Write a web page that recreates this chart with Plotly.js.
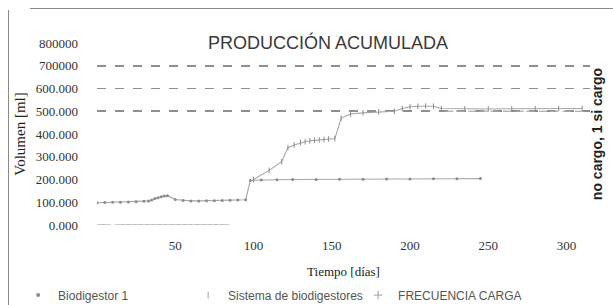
<!DOCTYPE html>
<html>
<head>
<meta charset="utf-8">
<script src="https://cdn.plot.ly/plotly-3.0.1.min.js"></script>
<style>
  html, body { margin: 0; padding: 0; background: #fff; }
  #chart { width: 613px; height: 305px; position: relative; }
  .frame { position: absolute; background: #8a8a8a; pointer-events: none; }
</style>
</head>
<body>
<div id="chart"></div>
<div class="frame" style="left:8px; top:10px; width:1px; height:295px;"></div>
<div class="frame" style="left:30px; top:8px; width:583px; height:1px;"></div>
<script>
// ---- data ----
const bioDias = [0, 5, 10, 15, 20, 25, 30, 33, 35, 37, 39, 41, 43, 45, 50, 55, 60, 65, 70, 75, 80, 85, 90, 95, 98, 105, 115, 125, 140, 155, 170, 185, 200, 215, 230, 245];
const bioVol  = [98000, 99000, 100000, 100000, 101000, 102000, 104000, 106000, 110000, 116000, 120000, 124000, 127000, 129000, 112000, 108000, 106000, 106000, 107000, 107000, 108000, 109000, 110000, 111000, 196000, 198000, 199000, 200000, 200000, 201000, 201000, 202000, 202000, 203000, 203000, 204000];

const sisDias = [100, 110, 118, 122, 126, 130, 133, 136, 139, 142, 145, 148, 152, 156, 162, 170, 180, 190, 195, 200, 205, 210, 215, 220, 235, 250, 265, 280, 295, 310];
const sisVol  = [200000, 240000, 278000, 340000, 352000, 362000, 366000, 370000, 372000, 374000, 376000, 378000, 380000, 470000, 488000, 493000, 497000, 500000, 512000, 520000, 522000, 523000, 522000, 512000, 510000, 510000, 511000, 511000, 512000, 512000];

const cargaDias = [2, 6, 14, 18, 22, 26, 30, 34, 38, 42, 46, 50, 54, 58, 62, 66, 70, 74, 78, 82, 225, 232, 240, 247, 254, 262, 270, 277, 285, 292, 300, 308];
const cargaVal  = [0, 0, 0, 0, 0, 0, 0, 0, 0, 0, 0, 0, 0, 0, 0, 0, 0, 0, 0, 0, 1, 1, 1, 1, 1, 1, 1, 1, 1, 1, 1, 1];

const yTickVals = [0, 100000, 200000, 300000, 400000, 500000, 600000, 700000, 800000];
const yTickText = ["0.000", "100.000", "200.000", "300.000", "400.000", "500.000", "600.000", "700000", "800000"];
const gridDashVals = [500000, 600000, 700000];
const gridDotVals = [800000];
const xTickVals = [50, 100, 150, 200, 250, 300];

const SERIF = "Liberation Serif";
const SANS = "Liberation Sans";

const traces = [
  // grid carriers (invisible)
  { x: [0], y: [null], yaxis: "y3", type: "scatter", mode: "markers", showlegend: false, hoverinfo: "skip" },
  { x: [0], y: [null], yaxis: "y4", type: "scatter", mode: "markers", showlegend: false, hoverinfo: "skip" },
  {
    x: bioDias, y: bioVol, name: "Biodigestor 1", type: "scatter", mode: "lines+markers", showlegend: false,
    line: {color: "#a6a6a6", width: 1.1},
    marker: {color: "#8c8c8c", size: 3, symbol: "circle"}
  },
  {
    x: sisDias, y: sisVol, name: "Sistema de biodigestores", type: "scatter", mode: "lines+markers", showlegend: false,
    line: {color: "#a6a6a6", width: 1.1},
    marker: {color: "#8c8c8c", size: 4, symbol: "line-ns-open", line: {width: 1, color: "#8c8c8c"}}
  },
  {
    x: cargaDias, y: cargaVal, name: "FRECUENCIA CARGA", type: "scatter", mode: "markers", showlegend: false,
    yaxis: "y2",
    marker: {color: "#a8a8a8", size: 6, symbol: "line-ew-open", line: {width: 1.2, color: "#a8a8a8"}}
  },
  // legend entries (marker-only symbols as in the reference)
  { x: [null], y: [null], name: "Biodigestor 1", type: "scatter", mode: "markers",
    marker: {color: "#8c8c8c", size: 4, symbol: "circle"} },
  { x: [null], y: [null], name: "Sistema de biodigestores", type: "scatter", mode: "markers",
    marker: {color: "#a0a0a0", size: 5, symbol: "line-ns-open", line: {width: 1, color: "#a0a0a0"}} },
  { x: [null], y: [null], name: "FRECUENCIA CARGA", type: "scatter", mode: "markers", yaxis: "y2",
    marker: {color: "#a0a0a0", size: 6, symbol: "cross-thin-open", line: {width: 1, color: "#a0a0a0"}} }
];

const layout = {
  width: 613, height: 305,
  margin: {l: 97, r: 23, t: 43, b: 80, autoexpand: false},
  paper_bgcolor: "#ffffff", plot_bgcolor: "#ffffff",
  font: {family: SERIF, size: 12, color: "#333333"},
  showlegend: true,
  title: {
    text: "PRODUCCIÓN ACUMULADA",
    font: {family: SANS, size: 18, color: "#3a3a3a"},
    x: 0.535, xanchor: "center", y: 0.86, yanchor: "middle"
  },
  xaxis: {
    range: [0, 315], tickvals: xTickVals, showgrid: false, zeroline: false, showline: false,
    ticks: "", ticklabelstandoff: 11, automargin: false,
    tickfont: {family: SERIF, size: 13, color: "#333333"},
    title: {text: "Tiempo [días]", standoff: 14,
            font: {family: SERIF, size: 13, color: "#222222"}}
  },
  yaxis: {
    range: [0, 800000], tickvals: yTickVals, ticktext: yTickText,
    showgrid: false, zeroline: false, showline: false, ticks: "", ticklabelstandoff: 18, automargin: false,
    tickfont: {family: SERIF, size: 13, color: "#333333"},
    title: {text: "Volumen [ml]", standoff: 6,
            font: {family: SERIF, size: 15, color: "#222222"}}
  },
  yaxis3: {
    overlaying: "y", range: [0, 800000], tickvals: gridDashVals, showticklabels: false, ticks: "",
    showgrid: true, gridcolor: "#8e8e8e", gridwidth: 1.8, griddash: "dash", zeroline: false, showline: false
  },
  yaxis4: {
    overlaying: "y", range: [0, 800000], tickvals: gridDotVals, showticklabels: false, ticks: "",
    showgrid: true, gridcolor: "#c4c4c4", gridwidth: 1, griddash: "dot", zeroline: false, showline: false
  },
  yaxis2: {
    overlaying: "y", side: "right", range: [0, 1.6], automargin: false,
    showgrid: false, zeroline: false, showline: false, showticklabels: false, ticks: "",
    title: {text: "no cargo, 1 si cargo", standoff: 2,
            font: {family: SANS, size: 14, color: "#222222", weight: "bold"}}
  },
  legend: {
    orientation: "h", xref: "paper", yref: "paper",
    x: -0.16, xanchor: "left", y: -0.385, yanchor: "middle",
    font: {family: SANS, size: 12, color: "#555555"},
    itemwidth: 30, entrywidth: 125, bgcolor: "rgba(0,0,0,0)"
  }
};

Plotly.newPlot("chart", traces, layout, {displayModeBar: false, staticPlot: true});
</script>
</body>
</html>
